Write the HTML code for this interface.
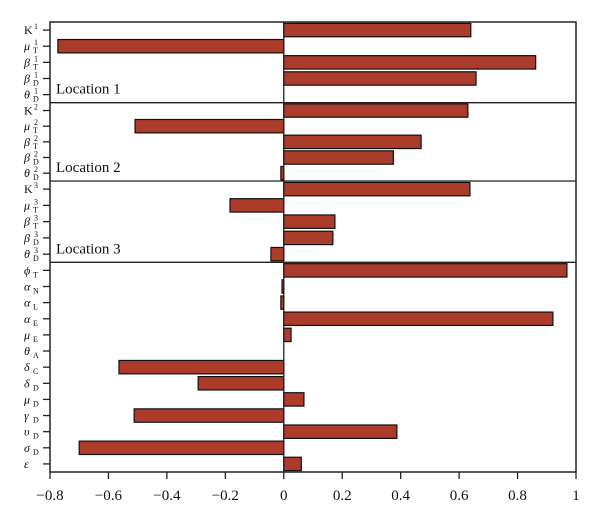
<!DOCTYPE html>
<html><head><meta charset="utf-8"><style>
body{margin:0;background:#fff;}
svg{display:block;font-family:"Liberation Serif",serif;}
</style></head><body>
<svg id="chart" width="600" height="521" viewBox="0 0 600 521" xmlns="http://www.w3.org/2000/svg">
<g id="bars"></g>
<g id="axes"></g>
</svg>
<script>
const categories = [
 ["K","1",""],["μ","1","T"],["β","1","T"],["β","1","D"],["θ","1","D"],
 ["K","2",""],["μ","2","T"],["β","2","T"],["β","2","D"],["θ","2","D"],
 ["K","3",""],["μ","3","T"],["β","3","T"],["β","3","D"],["θ","3","D"],
 ["ϕ","","T"],["α","","N"],["α","","L"],["α","","E"],["μ","","E"],["θ","","A"],["δ","","C"],["δ","","D"],["μ","","D"],["γ","","D"],["υ","","D"],["σ","","D"],["ε","",""]
];
const values = [0.64,-0.773,0.862,0.658,0,
 0.63,-0.509,0.47,0.375,-0.01,
 0.637,-0.184,0.175,0.168,-0.044,
 0.969,-0.006,-0.01,0.921,0.025,0,-0.564,-0.293,0.069,-0.512,0.387,-0.70,0.06];
const groupLabels = ["Location 1","Location 2","Location 3",""];
const groupSizes = [5,5,5,13];
const xTicks = [-0.8,-0.6,-0.4,-0.2,0,0.2,0.4,0.6,0.8,1];
const xTickLabels = ["−0.8","−0.6","−0.4","−0.2","0","0.2","0.4","0.6","0.8","1"];

const NS="http://www.w3.org/2000/svg";
const L=50,R=576,T=22,B=472,xmin=-0.8,xmax=1;
const sepY=[22,102.7,181,262.3,472];
function x(v){return L+(v-xmin)/(xmax-xmin)*(R-L);}
function rowY(i){let g=0,k=i;while(k>=groupSizes[g]){k-=groupSizes[g];g++;}
 const h=(sepY[g+1]-sepY[g])/groupSizes[g];return sepY[g]+h*(k+0.5);}
function mk(tag,attrs,parent){const e=document.createElementNS(NS,tag);for(const a in attrs)e.setAttribute(a,attrs[a]);parent.appendChild(e);return e;}
const bars=document.getElementById('bars'),axes=document.getElementById('axes');
values.forEach((v,i)=>{
 const cy=rowY(i),x0=x(0),x1=x(v);
 if(Math.abs(x1-x0)<0.5)return;
 const r=mk('rect',{x:Math.min(x0,x1),y:cy-6.7,width:Math.abs(x1-x0),height:13.4,fill:'#ab3b2a',stroke:'#111','stroke-width':1.2},bars);
 
 
});
// frame
const fr=mk('rect',{x:L,y:T,width:R-L,height:B-T,fill:'none',stroke:'#222','stroke-width':1.5},axes);


const zl=mk('line',{x1:x(0),x2:x(0),y1:T,y2:B,stroke:'#222','stroke-width':1.3},axes);


for(let g=1;g<4;g++){
 const s=mk('line',{x1:L,x2:R,y1:sepY[g],y2:sepY[g],stroke:'#222','stroke-width':1.3},axes);
 
 
}
groupLabels.forEach((t,g)=>{if(!t)return;
 const e=mk('text',{x:56,y:sepY[g+1]-9,'font-size':15,fill:'#111'},axes);e.textContent=t;
 
 
});
categories.forEach((c,i)=>{
 const cy=rowY(i);
 const tk=mk('line',{x1:43,x2:L,y1:cy,y2:cy,stroke:'#222','stroke-width':1.3},axes);
 
 
 const t=mk('text',{x:24,y:cy+4,'font-size':12,'font-style':c[0]==='K'?'normal':'italic',fill:'#111'},axes);
 
 
 t.textContent=c[0];
 if(c[1]){const s=mk('tspan',{x:34,y:cy-1,'font-size':8,'font-style':'normal'},t);s.textContent=c[1];}
 if(c[2]){const s=mk('tspan',{x:33,y:cy+7,'font-size':8,'font-style':'normal'},t);s.textContent=c[2];}
});
xTicks.forEach((v,i)=>{
 const tk=mk('line',{x1:x(v),x2:x(v),y1:B,y2:B+7,stroke:'#222','stroke-width':1.3},axes);
 
 
 const t=mk('text',{x:x(v),y:500,'font-size':15,'text-anchor':'middle',fill:'#111'},axes);
 t.textContent=xTickLabels[i];
 
 
});
</script>
</body></html>
